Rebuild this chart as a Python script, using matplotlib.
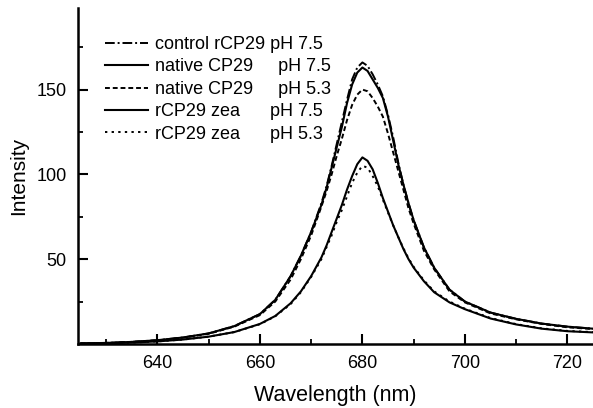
import matplotlib.pyplot as plt
from matplotlib.ticker import MultipleLocator

plt.rcParams['font.family'] = ['Liberation Sans', 'DejaVu Sans']

wavelength = [625, 630, 635, 640, 645, 650, 655, 660, 663, 666, 668, 670, 672, 673,
              674, 675, 676, 677, 678, 679, 680, 681, 682, 683, 684, 685, 686, 687,
              688, 689, 690, 692, 694, 697, 700, 705, 710, 715, 720, 725]

control_75 = [0.3, 0.6, 1.2, 2.2, 3.8, 6.2, 10.5, 17.6, 26, 40, 52, 66, 83, 93,
              105, 118, 131, 144, 156, 163, 166, 164, 159, 153, 146, 135, 122, 107,
              94, 83, 73, 57, 45, 32, 25, 18.5, 14.8, 12, 10.2, 9]
native_75 = [0.3, 0.6, 1.2, 2.2, 3.8, 6.2, 10.5, 17.6, 26, 40, 52, 66, 82, 92,
             104, 116, 128, 142, 153, 160, 163, 161, 156, 151, 145, 134, 120, 106,
             94, 83, 73, 57, 45, 32, 25, 18.5, 14.8, 12, 10.2, 9]
native_53 = [0.3, 0.6, 1.2, 2.1, 3.7, 6.0, 10.2, 17, 25, 38, 50, 64, 81, 90,
             100, 111, 121, 132, 141, 147, 150, 149, 145, 140, 134, 124, 113, 102,
             91, 80, 71, 55, 44, 31, 24.5, 18, 14.5, 11.8, 9.8, 8.8]
zea_75 = [0.2, 0.4, 0.8, 1.5, 2.6, 4.3, 7, 11.8, 16.5, 24, 31, 40, 51, 58,
          66, 74, 82, 91, 99, 106, 110, 108, 103, 95, 86, 78, 70, 63,
          56, 50, 45, 37, 30.5, 24.5, 20.5, 15, 11.5, 9, 7.5, 6.8]
zea_53 = [0.2, 0.4, 0.8, 1.5, 2.6, 4.3, 7, 11.6, 16.3, 23.5, 30.5, 39.5, 50, 57,
          64, 72, 79, 87, 95, 101, 105, 104, 99, 93, 85, 77.5, 70, 63,
          56.5, 50.5, 45.5, 37.5, 31, 25, 20.8, 15.3, 11.7, 9.2, 7.7, 7]

labels = ['control rCP29 pH 7.5', 'native CP29     pH 7.5', 'native CP29     pH 5.3',
          'rCP29 zea      pH 7.5', 'rCP29 zea      pH 5.3']

fig = plt.figure(figsize=(5.93, 4.08), dpi=100)
ax = fig.add_axes([0.1315, 0.157, 0.8685, 0.823])

ax.plot(wavelength, control_75, color='black', lw=1.4, linestyle=(0, (5, 1.5, 1, 1.5)), label=labels[0])
ax.plot(wavelength, native_75, color='black', lw=1.5, linestyle='-', label=labels[1])
ax.plot(wavelength, native_53, color='black', lw=1.4, linestyle=(0, (2.5, 1.5)), label=labels[2])
ax.plot(wavelength, zea_75, color='black', lw=1.5, linestyle='-', label=labels[3])
ax.plot(wavelength, zea_53, color='black', lw=1.4, linestyle=(0, (1.2, 2.2)), label=labels[4])

ax.set_xlim(624.5, 725)
ax.set_ylim(0, 198)
ax.xaxis.set_major_locator(MultipleLocator(20))
ax.xaxis.set_minor_locator(MultipleLocator(10))
ax.yaxis.set_minor_locator(MultipleLocator(25))
ax.set_yticks([50, 100, 150])

for s in ['top', 'right']:
    ax.spines[s].set_visible(False)
for s in ['left', 'bottom']:
    ax.spines[s].set_linewidth(1.8)

ax.tick_params(which='major', direction='in', length=7, width=1.5, labelsize=13, pad=8)
ax.tick_params(which='minor', direction='in', length=3.5, width=1.3)

ax.set_xlabel('Wavelength (nm)', fontsize=15.5, labelpad=9)
ax.set_ylabel('Intensity', fontsize=15, labelpad=6)

leg = ax.legend(loc='upper left', bbox_to_anchor=(0.052, 0.917), frameon=False, fontsize=13,
                handlelength=2.4, handletextpad=0.4, labelspacing=0.3, borderaxespad=0,
                borderpad=0)

fig.savefig('out.png', dpi=100)
